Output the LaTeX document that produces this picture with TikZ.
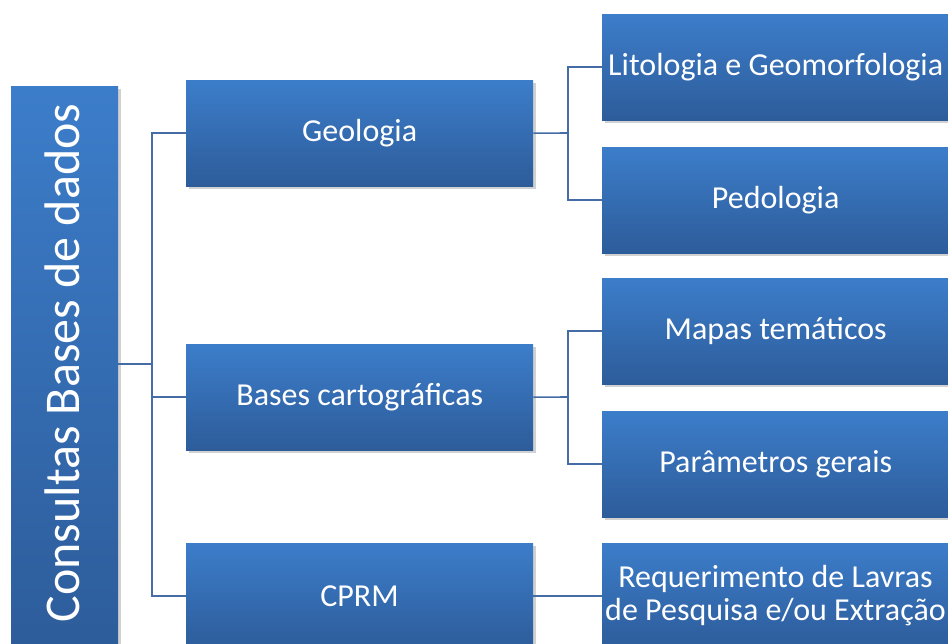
\documentclass[tikz,border=0pt]{standalone}
\usepackage{fontspec}
\setmainfont{Carlito}
\usetikzlibrary{shadows}
\definecolor{boxtop}{RGB}{60,125,202}
\definecolor{boxbot}{RGB}{45,92,154}
\definecolor{linec}{RGB}{70,108,165}
\tikzset{
  boxbase/.style={draw=none, top color=boxtop, bottom color=boxbot, text=white,
    inner sep=0pt,
    drop shadow={shadow xshift=3pt, shadow yshift=-3pt, opacity=0.18, fill=black}},
  box/.style={boxbase, font=\fontsize{32}{33}\selectfont, align=center,
    minimum width=347pt, minimum height=106pt, anchor=north west},
  rootbox/.style={boxbase, minimum width=107pt, minimum height=563pt},
  roottext/.style={text=white, font=\fontsize{50}{56}\selectfont, rotate=90, inner sep=0pt},
  lbl/.style={text=white, font=\fontsize{32}{33}\selectfont, align=center},
  conn/.style={draw=linec, line width=1.6pt}
}
\begin{document}
\begin{tikzpicture}[x=1pt,y=1pt]
\useasboundingbox (0,0) rectangle (948,-643);
\clip (0,0) rectangle (948,-643);
\fill[white] (0,0) rectangle (948,-643);
% root
\node[rootbox] (root) at (64.5,-367.5) {};
\node[roottext] (roott) at (62,-363) {Consultas Bases de dados};
% middle
\node[box] (geo) at (186,-80) {Geologia};
\node[box] (bases) at (186,-344) {Bases cartográficas};
\node[box] (cprm) at (186,-543) {};
\node[lbl] (cprmt) at (359.5,-596) {CPRM};
% right
\node[box] (lito) at (602,-14) {Litologia e Geomorfologia};
\node[box] (pedo) at (602,-147) {Pedologia};
\node[box] (mapas) at (602,-278) {Mapas temáticos};
\node[box] (param) at (602,-411) {Parâmetros gerais};
\node[box] (req) at (602,-543) {};
\node[lbl] (reqt) at (775.5,-596) {Requerimento de Lavras\\de Pesquisa e/ou Extração};
% connectors
\coordinate (j1) at (152,-364);
\draw[conn] (root.east |- j1) -- (j1);
\draw[conn] (geo.west) -| (j1) |- (cprmt.west -| cprm.west);
\draw[conn] (bases.west) -- (bases.west -| j1);
\coordinate (j2) at (568,-133);
\draw[conn] (geo.east) -- (j2);
\draw[conn] (lito.west) -| (j2) |- (pedo.west);
\coordinate (j3) at (568,-397);
\draw[conn] (bases.east) -- (j3);
\draw[conn] (mapas.west) -| (j3) |- (param.west);
\draw[conn] (cprmt.east -| cprm.east) -- (reqt.west -| req.west);
\end{tikzpicture}
\end{document}
